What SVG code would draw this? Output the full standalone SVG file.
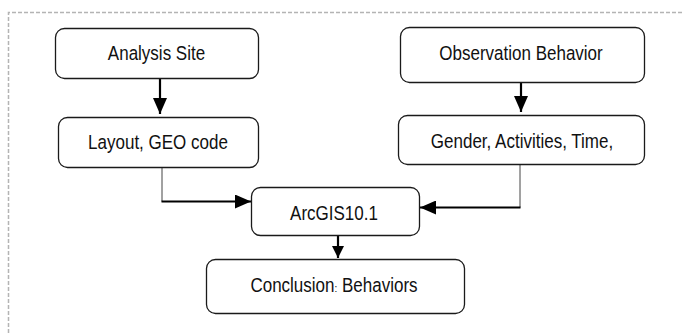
<svg xmlns="http://www.w3.org/2000/svg" width="690" height="333" viewBox="0 0 690 333">
<style>
.box{fill:#fff;stroke:#1a1a1a;stroke-width:1.3}
.t{font-family:"Liberation Sans",Arial,sans-serif;font-size:17px;fill:#111;text-anchor:middle}
.thin{fill:none;stroke:#444;stroke-width:1}
.thick{fill:none;stroke:#000;stroke-width:2.2}
.frame{fill:none;stroke:#b4b4b4;stroke-width:1.5;stroke-dasharray:4 2}
</style>
<defs>
<marker id="ah" markerUnits="userSpaceOnUse" markerWidth="16" markerHeight="14" refX="16" refY="7" orient="auto">
<path d="M0,0 L16,7 L0,14 z" fill="#000"/>
</marker>
<marker id="ahs" markerUnits="userSpaceOnUse" markerWidth="12" markerHeight="12" refX="12" refY="6" orient="auto">
<path d="M0,0 L12,6 L0,12 z" fill="#000"/>
</marker>
</defs>
<path class="frame" d="M8.5,333 V12.5 H684"/>
<g id="connectors">
<line class="thick" x1="160" y1="78" x2="160" y2="114" marker-end="url(#ah)"/>
<line class="thick" x1="521" y1="82" x2="521" y2="112" marker-end="url(#ah)"/>
<path class="thin" d="M162,167 V201.5"/>
<line class="thick" x1="161.5" y1="201.5" x2="251" y2="201.5" marker-end="url(#ah)"/>
<path class="thin" d="M520,164 V207.5"/>
<line class="thick" x1="520.5" y1="207.5" x2="420" y2="207.5" marker-end="url(#ah)"/>
<line class="thick" x1="338" y1="235" x2="338" y2="258" marker-end="url(#ahs)"/>
</g>
<g id="analysis-site">
<rect class="box" x="55.5" y="28.5" width="203" height="50" rx="9"/>
<text class="t" transform="translate(156.5,59.5) scale(1,1.17)">Analysis Site</text>
</g>
<g id="layout-geo">
<rect class="box" x="58.5" y="117.5" width="200" height="50" rx="9"/>
<text class="t" transform="translate(158,148.5) scale(1,1.17)">Layout, GEO code</text>
</g>
<g id="observation">
<rect class="box" x="400.5" y="27.5" width="244" height="55" rx="9"/>
<text class="t" transform="translate(521,59.5) scale(1,1.17)">Observation Behavior</text>
</g>
<g id="gender">
<rect class="box" x="398.5" y="115.5" width="246" height="49" rx="9"/>
<text class="t" transform="translate(522,148) scale(1,1.17)">Gender, Activities, Time,</text>
</g>
<g id="arcgis">
<rect class="box" x="251.5" y="187.5" width="168" height="48" rx="9"/>
<text class="t" transform="translate(334,220) scale(1,1.17)">ArcGIS10.1</text>
</g>
<g id="conclusion">
<rect class="box" x="206.5" y="259.5" width="258" height="54" rx="9"/>
<text class="t" transform="translate(334,292) scale(1,1.17)">Conclusion<tspan font-size="10">:</tspan> Behaviors</text>
</g>
</svg>
